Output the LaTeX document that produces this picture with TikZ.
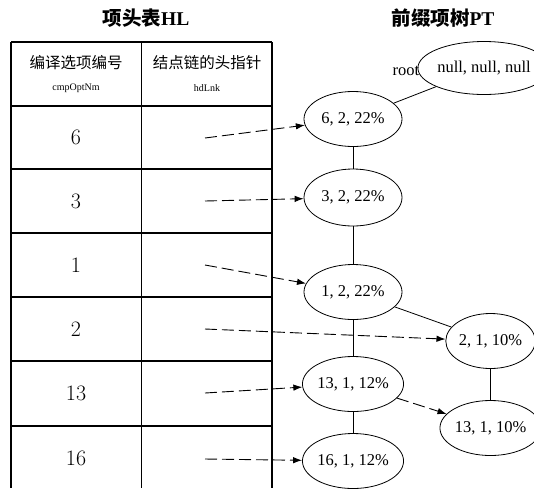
\documentclass[tikz,border=0pt]{standalone}
\usepackage{fontspec}
\newfontfamily\tms{Liberation Serif}
\newfontfamily\cjk{Noto Sans CJK SC}
\usetikzlibrary{shapes.geometric,arrows.meta}
\begin{document}
\begin{tikzpicture}[x=1pt,y=-1pt,
  tbl/.style={line width=1.1pt},
  ell/.style={ellipse,draw,line width=0.8pt,minimum width=98pt,minimum height=55pt,inner sep=0pt,font=\tms\fontsize{16.5}{18}\selectfont},
  ellr/.style={ell,minimum width=85pt},
  link/.style={line width=0.9pt,dash pattern=on 12pt off 5pt,-{Latex[length=9pt,width=6.5pt]}},
  tedge/.style={line width=0.8pt},
  hcn/.style={font=\cjk\fontsize{15.5}{18}\selectfont},
  hen/.style={font=\tms\fontsize{10}{12}\selectfont},
  num/.style={font=\fontsize{22}{26}\selectfont},
  title/.style={font=\fontsize{19.5}{22}\selectfont\bfseries}]
\useasboundingbox (0,0) rectangle (534,488);
\fill[white] (0,0) rectangle (534,488);
% titles
\node[title] (t1) at (146,18) {\cjk 项头表\tms HL};
\node[title] (t2) at (443,18) {\cjk 前缀项树\tms PT};
% table
\foreach \x in {11,141.5,272} \draw[tbl] (\x,42) -- (\x,488);
\foreach \y in {42,106,169,233,297,361,426} \draw[tbl] (11,\y) -- (272,\y);
\node[hcn] (h1) at (76,63) {编译选项编号};
\node[hen] (h1e) at (76,88) {cmpOptNm};
\node[hcn] (h2) at (207,63) {结点链的头指针};
\node[hen] (h2e) at (207,88) {hdLnk};
\node[num] (r6) at (76,137.5) {6};
\node[num] (r3) at (76,201) {3};
\node[num] (r1) at (76,265) {1};
\node[num] (r2) at (76,329) {2};
\node[num] (r13) at (76,393.5) {13};
\node[num] (r16) at (76,458) {16};
\coordinate (s6) at (205,138);
\coordinate (s3) at (205,201);
\coordinate (s1) at (205,265);
\coordinate (s2) at (205,329);
\coordinate (s13) at (205,393);
\coordinate (s16) at (205,459);
% tree
\node[ell,minimum height=53pt] (root) at (484,68) {null, null, null};
\node[font=\tms\fontsize{16.5}{18}\selectfont] (rootl) at (406,71) {root};
\node[ell] (n6) at (353,119) {6, 2, 22\%};
\node[ell,minimum height=57pt] (n3) at (353,197.5) {3, 2, 22\%};
\node[ell] (n1) at (353,292) {1, 2, 22\%};
\node[ell] (n13) at (353,384) {13, 1, 12\%};
\node[ell] (n16) at (353,461) {16, 1, 12\%};
\node[ellr] (n2r) at (490.5,341) {2, 1, 10\%};
\node[ellr] (n13r) at (490.5,428) {13, 1, 10\%};
\draw[tedge] (root) -- (n6);
\draw[tedge] (n6) -- (n3);
\draw[tedge] (n3) -- (n1);
\draw[tedge] (n1) -- (n13);
\draw[tedge] (n13) -- (n16);
\draw[tedge] (n1) -- (n2r);
\draw[tedge] (n2r) -- (n13r);
% links
\draw[link] (s6) -- (n6);
\draw[link] (s3) -- (n3);
\draw[link] (s1) -- (n1);
\draw[link] (s2) -- (n2r);
\draw[link] (s13) -- (n13);
\draw[link] (s16) -- (n16);
\draw[link] (n13) -- (n13r);
\end{tikzpicture}
\end{document}
